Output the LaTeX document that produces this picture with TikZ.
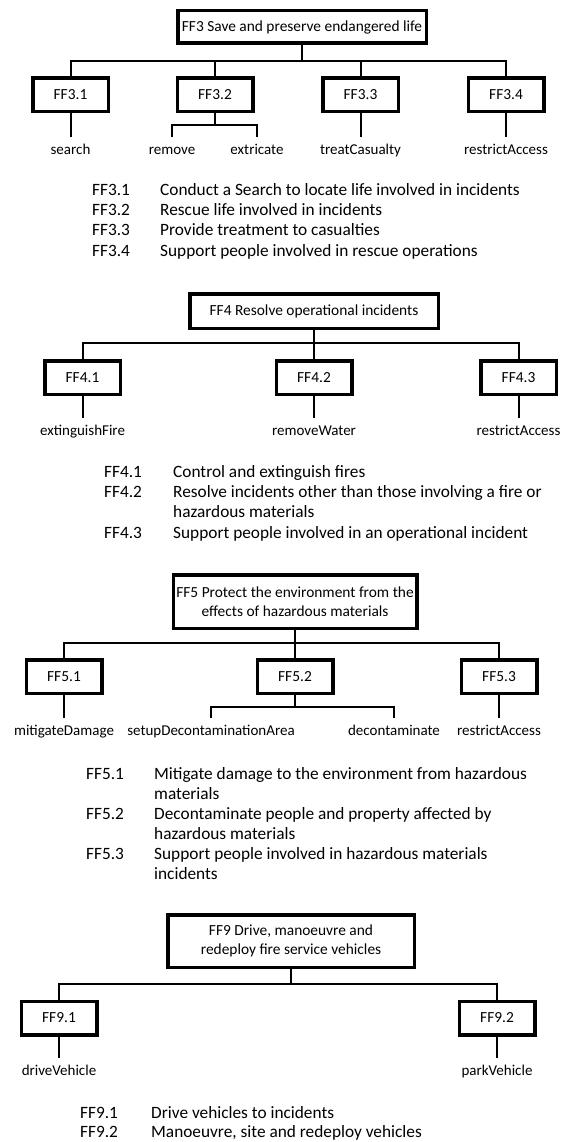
\documentclass[tikz,border=0pt]{standalone}
\usepackage{fontspec}
\setmainfont{Carlito}
\usetikzlibrary{positioning,calc}

\tikzset{
  topbox/.style={draw,line width=3.5pt,font=\fontsize{15.4}{19}\selectfont,align=center,inner sep=0pt},
  subbox/.style={draw,line width=3.5pt,font=\fontsize{15.4}{18}\selectfont,
                 minimum width=75.5pt,minimum height=33.5pt,inner sep=0pt},
  link/.style={line width=2pt},
  leaf/.style={font=\fontsize{15}{18}\selectfont,anchor=north,inner sep=0pt,text height=17pt,text depth=4pt},
  fcode/.style={font=\fontsize{17.3}{20.3}\selectfont,anchor=north west,inner sep=0pt},
  fdesc/.style={fcode,align=left},
}

\begin{document}
\begin{tikzpicture}[x=1pt,y=-1pt]
  \fill[white] (0,0) rectangle (562,1142);
  \useasboundingbox (0,0) rectangle (562,1142);

  \node[topbox,minimum width=248.5pt,minimum height=32.5pt] (ff3) at (302,27)
    {FF3 Save and preserve endangered life};
  \node[subbox] (c31) at (70.5,95) {FF3.1};
  \node[subbox] (c32) at (215,95) {FF3.2};
  \node[subbox] (c33) at (360.5,95) {FF3.3};
  \node[subbox] (c34) at (506,95) {FF3.4};
  \foreach \c in {c31,c32,c33,c34}
    \draw[link] (ff3.south) -- ++(0,16) -| (\c.north);
  \node[leaf] (search) at (70.5,137) {search};
  \node[leaf] (remove) at (172,137) {remove};
  \node[leaf] (extricate) at (257,137) {extricate};
  \node[leaf] (treat) at (360.5,137) {treatCasualty};
  \node[leaf] (restrict3) at (506,137) {restrictAccess};
  \draw[link] (c31.south) -- (search.north);
  \draw[link] (c32.south) -- ++(0,11.5) -| (remove.north);
  \draw[link] (c32.south) -- ++(0,11.5) -| (extricate.north);
  \draw[link] (c33.south) -- (treat.north);
  \draw[link] (c34.south) -- (restrict3.north);

  \node[fcode] (d31) at (92,180.8) {\strut FF3.1};
  \node[fdesc] (t31) at (160,180.8) {\strut Conduct a Search to locate life involved in incidents};
  \node[fcode] (d32) at (92,201.1) {\strut FF3.2};
  \node[fdesc] (t32) at (160,201.1) {\strut Rescue life involved in incidents};
  \node[fcode] (d33) at (92,221.4) {\strut FF3.3};
  \node[fdesc] (t33) at (160,221.4) {\strut Provide treatment to casualties};
  \node[fcode] (d34) at (92,241.7) {\strut FF3.4};
  \node[fdesc] (t34) at (160,241.7) {\strut Support people involved in rescue operations};

  \node[topbox,minimum width=248.5pt,minimum height=34.5pt] (ff4) at (314,311)
    {FF4 Resolve operational incidents};
  \node[subbox] (c41) at (82.5,377.5) {FF4.1};
  \node[subbox] (c42) at (314,377.5) {FF4.2};
  \node[subbox] (c43) at (518.5,377.5) {FF4.3};
  \foreach \c in {c41,c42,c43}
    \draw[link] (ff4.south) -- ++(0,13) -| (\c.north);
  \node[leaf] (extinguish) at (82.5,418) {extinguishFire};
  \node[leaf] (water) at (314,418) {removeWater};
  \node[leaf] (restrict4) at (518.5,418) {restrictAccess};
  \draw[link] (c41.south) -- (extinguish.north);
  \draw[link] (c42.south) -- (water.north);
  \draw[link] (c43.south) -- (restrict4.north);

  \node[fcode] (d41) at (104,462.8) {\strut FF4.1};
  \node[fdesc] (t41) at (173,462.8) {\strut Control and extinguish fires};
  \node[fcode] (d42) at (104,483.1) {\strut FF4.2};
  \node[fdesc] (t42) at (173,483.1) {\strut Resolve incidents other than those involving a fire or\\hazardous materials};
  \node[fcode] (d43) at (104,524.2) {\strut FF4.3};
  \node[fdesc] (t43) at (173,524.2) {\strut Support people involved in an operational incident};

  \node[topbox,minimum width=243.5pt,minimum height=53.5pt] (ff5) at (295,601.5)
    {FF5 Protect the environment from the\\effects of hazardous materials};
  \node[subbox] (c51) at (64,676.5) {FF5.1};
  \node[subbox] (c52) at (295,676.5) {FF5.2};
  \node[subbox] (c53) at (499,676.5) {FF5.3};
  \foreach \c in {c51,c52,c53}
    \draw[link] (ff5.south) -- ++(0,13) -| (\c.north);
  \node[leaf] (mitigate) at (64,718) {mitigateDamage};
  \node[leaf] (setup) at (211,718) {setupDecontaminationArea};
  \node[leaf] (decon) at (394,718) {decontaminate};
  \node[leaf] (restrict5) at (499,718) {restrictAccess};
  \draw[link] (c51.south) -- (mitigate.north);
  \draw[link] (c52.south) -- ++(0,12) -| (setup.north);
  \draw[link] (c52.south) -- ++(0,12) -| (decon.north);
  \draw[link] (c53.south) -- (restrict5.north);

  \node[fcode] (d51) at (86,764.8) {\strut FF5.1};
  \node[fdesc] (t51) at (154,764.8) {\strut Mitigate damage to the environment from hazardous\\materials};
  \node[fcode] (d52) at (86,804.8) {\strut FF5.2};
  \node[fdesc] (t52) at (154,804.8) {\strut Decontaminate people and property affected by\\hazardous materials};
  \node[fcode] (d53) at (86,844.8) {\strut FF5.3};
  \node[fdesc] (t53) at (154,844.8) {\strut Support people involved in hazardous materials\\incidents};

  \node[topbox,minimum width=246.5pt,minimum height=52.5pt] (ff9) at (291,941)
    {FF9 Drive, manoeuvre and\\redeploy fire service vehicles};
  \node[subbox] (c91) at (59,1018) {FF9.1};
  \node[subbox] (c92) at (497,1018) {FF9.2};
  \foreach \c in {c91,c92}
    \draw[link] (ff9.south) -- ++(0,15) -| (\c.north);
  \node[leaf] (drive) at (59,1058) {driveVehicle};
  \node[leaf] (park) at (497,1058) {parkVehicle};
  \draw[link] (c91.south) -- (drive.north);
  \draw[link] (c92.south) -- (park.north);

  \node[fcode] (d91) at (80,1103.8) {\strut FF9.1};
  \node[fdesc] (t91) at (151,1103.8) {\strut Drive vehicles to incidents};
  \node[fcode] (d92) at (80,1123.3) {\strut FF9.2};
  \node[fdesc] (t92) at (151,1123.3) {\strut Manoeuvre, site and redeploy vehicles};
\end{tikzpicture}
\end{document}
